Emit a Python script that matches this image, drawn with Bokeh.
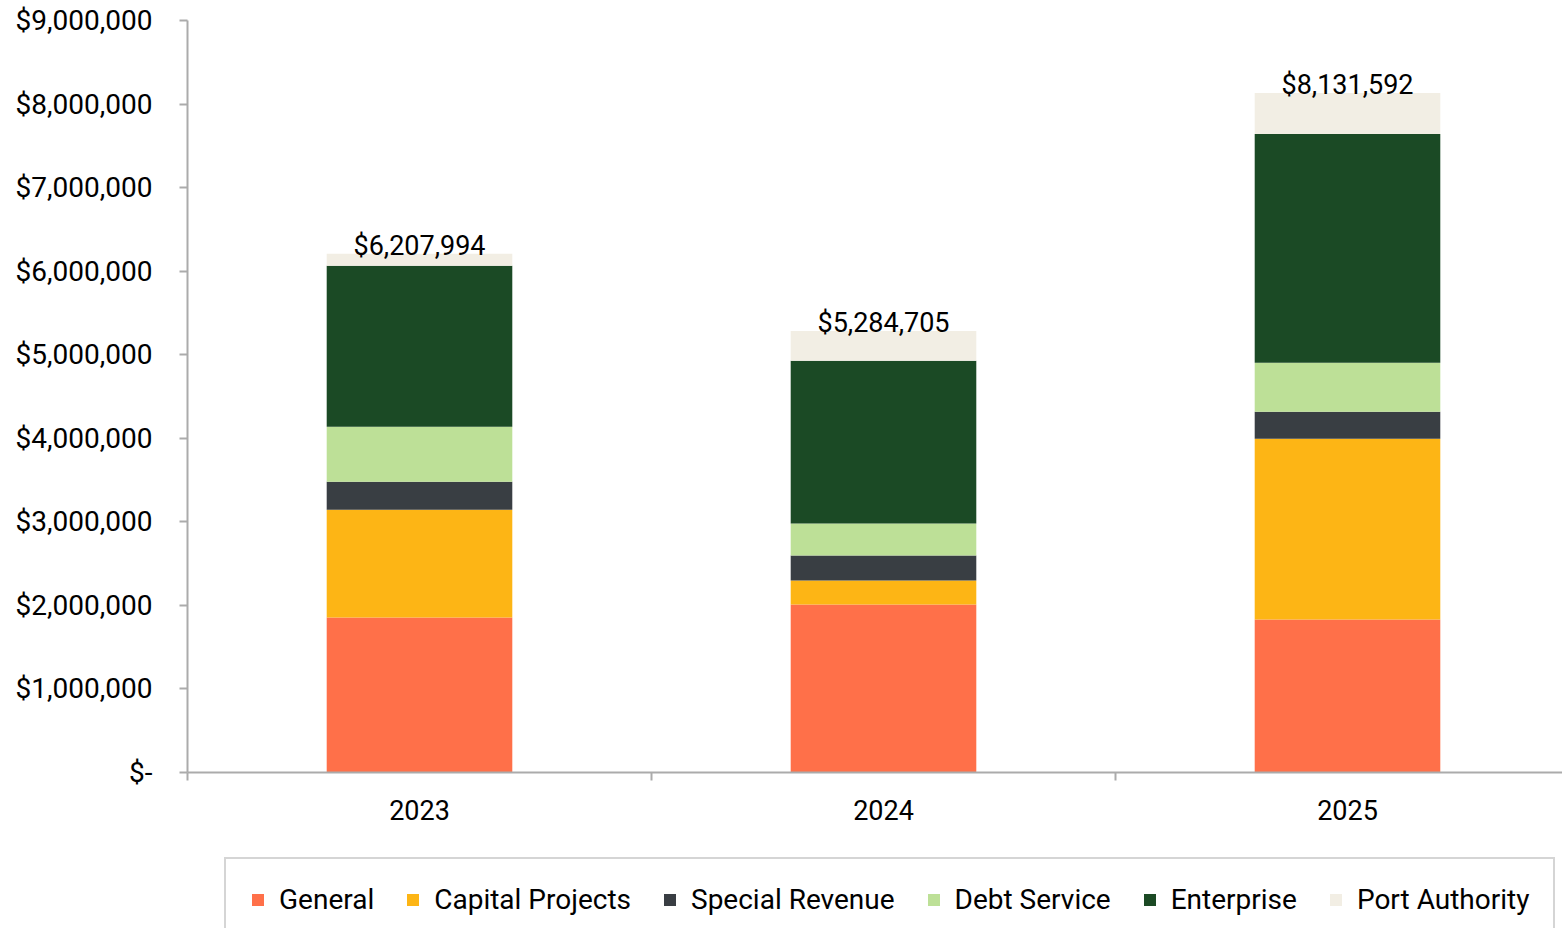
from bokeh.plotting import figure
from bokeh.layouts import column
from bokeh.models import (Range1d, FixedTicker, NumeralTickFormatter, Legend, LegendItem,
                          ColumnDataSource)
from bokeh.core.properties import value
from bokeh.embed import file_html
from bokeh.resources import INLINE

# ---------------- data ----------------
years = ["2023", "2024", "2025"]
funds = ["General", "Capital Projects", "Special Revenue", "Debt Service", "Enterprise", "Port Authority"]
general = [1854000, 2010000, 1830000]
capital_projects = [1292000, 287000, 2165000]
special_revenue = [335000, 299000, 323000]
debt_service = [658000, 383000, 586000]
enterprise = [1926000, 1950000, 2739000]
port_authority = [142994, 355705, 488592]
y_ticks = [0, 1000000, 2000000, 3000000, 4000000, 5000000, 6000000, 7000000, 8000000, 9000000]

colors = ["#FF7049", "#FDB515", "#393E43", "#BDE097", "#1B4A25", "#F2EEE4"]
FONT = "Roboto"
AXIS_GRAY = "#ABABAB"

series = [general, capital_projects, special_revenue, debt_service, enterprise, port_authority]
keys = ["s%d" % i for i in range(len(funds))]
xc = [i + 0.5 for i in range(len(years))]
data = {"x": xc}
for k, s in zip(keys, series):
    data[k] = s
totals = [sum(s[i] for s in series) for i in range(len(years))]
data["total"] = totals
data["label"] = ["${:,.0f}".format(t) for t in totals]
src = ColumnDataSource(data)

# ---------------- main chart ----------------
p = figure(width=1562, height=840, output_backend="svg", toolbar_location=None,
           x_range=Range1d(0, (1562 - 187) / 464.0), y_range=Range1d(0, 9000000),
           min_border_left=187, min_border_right=0, min_border_top=20, min_border_bottom=68)
p.outline_line_color = None
p.background_fill_color = "white"
p.border_fill_color = "white"

p.vbar_stack(keys, x="x", width=0.4, color=colors, line_color=None, source=src)

p.text(x="x", y="total", text="label", source=src, text_align="center", text_baseline="middle",
       y_offset=-8, text_font=value(FONT), text_font_size="27px", text_color="#000000")

# y axis
ya = p.yaxis[0]
ya.ticker = FixedTicker(ticks=y_ticks)
ya.formatter = NumeralTickFormatter(format="$0,0")
ya.major_label_overrides = {0: "$-"}
ya.major_label_text_font = FONT
ya.major_label_text_font_size = "28px"
ya.major_label_text_color = "#000000"
ya.axis_line_color = AXIS_GRAY
ya.axis_line_width = 2
ya.major_tick_line_color = AXIS_GRAY
ya.major_tick_line_width = 2
ya.major_tick_out = 8
ya.major_tick_in = 0
ya.minor_tick_line_color = None
ya.major_label_standoff = 27

# x axis
xa = p.xaxis[0]
xa.ticker = FixedTicker(ticks=xc, minor_ticks=list(range(len(years) + 1)))
xa.major_label_overrides = {c: y for c, y in zip(xc, years)}
xa.major_label_text_font = FONT
xa.major_label_text_font_size = "27px"
xa.major_label_text_color = "#000000"
xa.axis_line_color = AXIS_GRAY
xa.axis_line_width = 2
xa.major_tick_line_color = None
xa.major_tick_out = 0
xa.major_tick_in = 0
xa.minor_tick_line_color = AXIS_GRAY
xa.minor_tick_line_width = 2
xa.minor_tick_out = 8
xa.minor_tick_in = 0
xa.major_label_standoff = 19

p.xgrid.grid_line_color = None
p.ygrid.ticker = FixedTicker(ticks=[y_ticks[-1]])
p.ygrid.grid_line_color = AXIS_GRAY
p.ygrid.grid_line_width = 2

# ---------------- legend strip ----------------
lg = figure(width=1562, height=88, output_backend="svg", toolbar_location=None,
            x_range=Range1d(0, 1), y_range=Range1d(0, 1),
            x_axis_location=None, y_axis_location=None,
            min_border_left=0, min_border_right=0, min_border_top=0, min_border_bottom=0)
lg.outline_line_color = None
lg.grid.grid_line_color = None
lg.background_fill_color = "white"
lg.border_fill_color = "white"

# swatch renderers for the legend (placed outside the visible range of this strip)
swatches = [lg.quad(left=[5], right=[6], bottom=[5], top=[6], fill_color=c, line_color=None)
            for c in colors]
items = [LegendItem(label=f, renderers=[r]) for f, r in zip(funds, swatches)]
legend = Legend(items=items, orientation="horizontal", location=(37, -14),
                label_text_font=FONT, label_text_font_size="28px", label_text_color="#000000",
                glyph_width=15, glyph_height=15, label_standoff=14, spacing=31, padding=24,
                border_line_color=AXIS_GRAY, border_line_width=2, background_fill_color="white",
                background_fill_alpha=1.0, margin=0)
lg.add_layout(legend)

layout = column(p, lg, spacing=0)
open("out.html", "w").write(file_html(layout, INLINE))
